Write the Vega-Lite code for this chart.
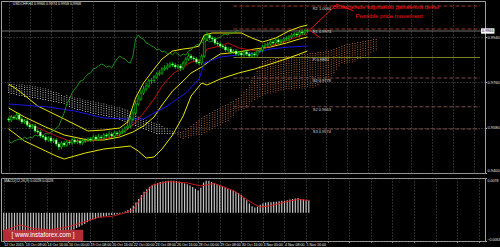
{
  "$schema": "https://vega.github.io/schema/vega-lite/v6.json",
  "background": "#000000",
  "padding": 0,
  "spacing": 3,
  "config": {
    "view": {"stroke": "#a0a0a0", "strokeWidth": 1},
    "axis": {"gridColor": "#6c6c6c", "gridDash": [1, 2], "gridWidth": 0.8, "labelColor": "#e8e8e8", "labelFont": "Liberation Sans", "tickColor": "#aaaaaa", "domain": false, "minExtent": 0, "labelOverlap": false},
    "text": {"font": "Liberation Sans"}
  },
  "datasets": {
    "candles": [
      {"i":0,"o":0.9614,"h":0.9622,"l":0.9602,"c":0.961,"lag":0.9526},
      {"i":1,"o":0.961,"h":0.963,"l":0.9602,"c":0.9622,"lag":0.9518},
      {"i":2,"o":0.9622,"h":0.963,"l":0.961,"c":0.9618,"lag":0.9526},
      {"i":3,"o":0.9618,"h":0.9638,"l":0.961,"c":0.963,"lag":0.953},
      {"i":4,"o":0.963,"h":0.9638,"l":0.9606,"c":0.9614,"lag":0.9534},
      {"i":5,"o":0.9614,"h":0.9622,"l":0.9594,"c":0.9602,"lag":0.953},
      {"i":6,"o":0.9602,"h":0.9614,"l":0.9594,"c":0.9606,"lag":0.9542},
      {"i":7,"o":0.9606,"h":0.9614,"l":0.9582,"c":0.959,"lag":0.9534},
      {"i":8,"o":0.959,"h":0.9598,"l":0.9574,"c":0.9582,"lag":0.9542},
      {"i":9,"o":0.9582,"h":0.9594,"l":0.9574,"c":0.9586,"lag":0.9538},
      {"i":10,"o":0.9586,"h":0.9594,"l":0.9558,"c":0.9566,"lag":0.955},
      {"i":11,"o":0.9566,"h":0.9574,"l":0.9554,"c":0.9562,"lag":0.9546},
      {"i":12,"o":0.9562,"h":0.957,"l":0.9538,"c":0.9546,"lag":0.9554},
      {"i":13,"o":0.9546,"h":0.9554,"l":0.9534,"c":0.9542,"lag":0.9546},
      {"i":14,"o":0.9542,"h":0.955,"l":0.9522,"c":0.953,"lag":0.9558},
      {"i":15,"o":0.953,"h":0.9546,"l":0.9522,"c":0.9538,"lag":0.9554},
      {"i":16,"o":0.9538,"h":0.9546,"l":0.9518,"c":0.9526,"lag":0.9562},
      {"i":17,"o":0.9526,"h":0.9538,"l":0.9518,"c":0.953,"lag":0.9566},
      {"i":18,"o":0.953,"h":0.9538,"l":0.9506,"c":0.9514,"lag":0.9578},
      {"i":19,"o":0.9514,"h":0.9522,"l":0.949,"c":0.9502,"lag":0.9586},
      {"i":20,"o":0.9502,"h":0.9526,"l":0.9494,"c":0.9518,"lag":0.9614},
      {"i":21,"o":0.9518,"h":0.9526,"l":0.9502,"c":0.951,"lag":0.9638},
      {"i":22,"o":0.951,"h":0.953,"l":0.9502,"c":0.9522,"lag":0.9674},
      {"i":23,"o":0.9522,"h":0.953,"l":0.951,"c":0.9518,"lag":0.9694},
      {"i":24,"o":0.9518,"h":0.9538,"l":0.951,"c":0.953,"lag":0.9718},
      {"i":25,"o":0.953,"h":0.9538,"l":0.9514,"c":0.9522,"lag":0.9734},
      {"i":26,"o":0.9522,"h":0.9534,"l":0.9514,"c":0.9526,"lag":0.9746},
      {"i":27,"o":0.9526,"h":0.9534,"l":0.951,"c":0.9518,"lag":0.9766},
      {"i":28,"o":0.9518,"h":0.9534,"l":0.951,"c":0.9526,"lag":0.9768},
      {"i":29,"o":0.9526,"h":0.9538,"l":0.9518,"c":0.953,"lag":0.9782},
      {"i":30,"o":0.953,"h":0.9542,"l":0.9522,"c":0.9534,"lag":0.9794},
      {"i":31,"o":0.9534,"h":0.9542,"l":0.9522,"c":0.953,"lag":0.9798},
      {"i":32,"o":0.953,"h":0.955,"l":0.9522,"c":0.9542,"lag":0.9814},
      {"i":33,"o":0.9542,"h":0.955,"l":0.9526,"c":0.9534,"lag":0.9818},
      {"i":34,"o":0.9534,"h":0.9554,"l":0.9526,"c":0.9542,"lag":0.9826},
      {"i":35,"o":0.9542,"h":0.955,"l":0.953,"c":0.9538,"lag":0.9834},
      {"i":36,"o":0.9538,"h":0.9558,"l":0.953,"c":0.955,"lag":0.983},
      {"i":37,"o":0.955,"h":0.9558,"l":0.9538,"c":0.9546,"lag":0.9822},
      {"i":38,"o":0.9546,"h":0.9566,"l":0.9538,"c":0.9554,"lag":0.9826},
      {"i":39,"o":0.9554,"h":0.9562,"l":0.9538,"c":0.9546,"lag":0.9818},
      {"i":40,"o":0.9546,"h":0.9566,"l":0.9538,"c":0.9558,"lag":0.9838},
      {"i":41,"o":0.9558,"h":0.9566,"l":0.9546,"c":0.9554,"lag":0.9854},
      {"i":42,"o":0.9554,"h":0.957,"l":0.9546,"c":0.9562,"lag":0.9866},
      {"i":43,"o":0.9562,"h":0.9574,"l":0.9554,"c":0.9566,"lag":0.9858},
      {"i":44,"o":0.9566,"h":0.9586,"l":0.9558,"c":0.9578,"lag":0.9854},
      {"i":45,"o":0.9578,"h":0.9598,"l":0.957,"c":0.9586,"lag":0.9842},
      {"i":46,"o":0.9586,"h":0.9626,"l":0.9578,"c":0.9614,"lag":0.9838},
      {"i":47,"o":0.9614,"h":0.9654,"l":0.9606,"c":0.9638,"lag":0.9866},
      {"i":48,"o":0.9638,"h":0.9686,"l":0.963,"c":0.9674,"lag":0.9934},
      {"i":49,"o":0.9674,"h":0.971,"l":0.9666,"c":0.9694,"lag":0.995},
      {"i":50,"o":0.9694,"h":0.973,"l":0.9686,"c":0.9718,"lag":0.9938},
      {"i":51,"o":0.9718,"h":0.9746,"l":0.971,"c":0.9734,"lag":0.9934},
      {"i":52,"o":0.9734,"h":0.9758,"l":0.9726,"c":0.9746,"lag":0.9918},
      {"i":53,"o":0.9746,"h":0.9774,"l":0.9738,"c":0.9766,"lag":0.9914},
      {"i":54,"o":0.9766,"h":0.9778,"l":0.9754,"c":0.9768,"lag":0.9906},
      {"i":55,"o":0.9768,"h":0.979,"l":0.9758,"c":0.9782,"lag":0.9902},
      {"i":56,"o":0.9782,"h":0.9802,"l":0.9774,"c":0.9794,"lag":0.989},
      {"i":57,"o":0.9794,"h":0.981,"l":0.9786,"c":0.9798,"lag":0.9894},
      {"i":58,"o":0.9798,"h":0.9822,"l":0.979,"c":0.9814,"lag":0.9882},
      {"i":59,"o":0.9814,"h":0.983,"l":0.9806,"c":0.9818,"lag":0.9886},
      {"i":60,"o":0.9818,"h":0.9838,"l":0.981,"c":0.9826,"lag":0.9874},
      {"i":61,"o":0.9826,"h":0.9842,"l":0.9818,"c":0.9834,"lag":0.9878},
      {"i":62,"o":0.9834,"h":0.9842,"l":0.9822,"c":0.983,"lag":0.987},
      {"i":63,"o":0.983,"h":0.9838,"l":0.9814,"c":0.9822,"lag":0.9882},
      {"i":64,"o":0.9822,"h":0.9834,"l":0.9814,"c":0.9826,"lag":0.9874},
      {"i":65,"o":0.9826,"h":0.9834,"l":0.9806,"c":0.9818,"lag":0.9866},
      {"i":66,"o":0.9818,"h":0.9846,"l":0.981,"c":0.9838,"lag":0.9874},
      {"i":67,"o":0.9838,"h":0.9862,"l":0.983,"c":0.9854,"lag":0.987},
      {"i":68,"o":0.9854,"h":0.9878,"l":0.9846,"c":0.9866,"lag":0.9886},
      {"i":69,"o":0.9866,"h":0.9874,"l":0.985,"c":0.9858,"lag":0.989},
      {"i":70,"o":0.9858,"h":0.9866,"l":0.9846,"c":0.9854,"lag":0.9902},
      {"i":71,"o":0.9854,"h":0.9862,"l":0.9834,"c":0.9842,"lag":0.991},
      {"i":72,"o":0.9842,"h":0.9854,"l":0.983,"c":0.9838,"lag":0.9914},
      {"i":73,"o":0.9838,"h":0.9874,"l":0.983,"c":0.9866,"lag":0.9922},
      {"i":74,"o":0.9866,"h":0.9946,"l":0.9858,"c":0.9934,"lag":0.9918},
      {"i":75,"o":0.9934,"h":0.9962,"l":0.9926,"c":0.995,"lag":0.993},
      {"i":76,"o":0.995,"h":0.9958,"l":0.993,"c":0.9938,"lag":0.9922},
      {"i":77,"o":0.9938,"h":0.9946,"l":0.9922,"c":0.9934,"lag":0.9926},
      {"i":78,"o":0.9934,"h":0.9942,"l":0.991,"c":0.9918,"lag":0.9934},
      {"i":79,"o":0.9918,"h":0.9926,"l":0.9906,"c":0.9914,"lag":0.9936},
      {"i":80,"o":0.9914,"h":0.9922,"l":0.9898,"c":0.9906,"lag":0.9942},
      {"i":81,"o":0.9906,"h":0.9914,"l":0.9894,"c":0.9902,"lag":0.995},
      {"i":82,"o":0.9902,"h":0.991,"l":0.9882,"c":0.989,"lag":0.9954},
      {"i":83,"o":0.989,"h":0.9902,"l":0.9882,"c":0.9894,"lag":0.995},
      {"i":84,"o":0.9894,"h":0.9902,"l":0.9874,"c":0.9882,"lag":0.9962},
      {"i":85,"o":0.9882,"h":0.9894,"l":0.9874,"c":0.9886,"lag":0.9958},
      {"i":86,"o":0.9886,"h":0.9894,"l":0.9866,"c":0.9874,"lag":0.9966},
      {"i":87,"o":0.9874,"h":0.9886,"l":0.9866,"c":0.9878,"lag":0.9968},
      {"i":88,"o":0.9878,"h":0.9886,"l":0.9862,"c":0.987},
      {"i":89,"o":0.987,"h":0.989,"l":0.9862,"c":0.9882},
      {"i":90,"o":0.9882,"h":0.989,"l":0.9866,"c":0.9874},
      {"i":91,"o":0.9874,"h":0.9882,"l":0.9858,"c":0.9866},
      {"i":92,"o":0.9866,"h":0.9882,"l":0.9858,"c":0.9874},
      {"i":93,"o":0.9874,"h":0.9882,"l":0.9862,"c":0.987},
      {"i":94,"o":0.987,"h":0.9894,"l":0.9862,"c":0.9886},
      {"i":95,"o":0.9886,"h":0.9898,"l":0.9878,"c":0.989},
      {"i":96,"o":0.989,"h":0.991,"l":0.9882,"c":0.9902},
      {"i":97,"o":0.9902,"h":0.9918,"l":0.9894,"c":0.991},
      {"i":98,"o":0.991,"h":0.9922,"l":0.9902,"c":0.9914},
      {"i":99,"o":0.9914,"h":0.993,"l":0.9906,"c":0.9922},
      {"i":100,"o":0.9922,"h":0.993,"l":0.991,"c":0.9918},
      {"i":101,"o":0.9918,"h":0.9938,"l":0.991,"c":0.993},
      {"i":102,"o":0.993,"h":0.9938,"l":0.9914,"c":0.9922},
      {"i":103,"o":0.9922,"h":0.9934,"l":0.9914,"c":0.9926},
      {"i":104,"o":0.9926,"h":0.9942,"l":0.9918,"c":0.9934},
      {"i":105,"o":0.9934,"h":0.9946,"l":0.9926,"c":0.9936},
      {"i":106,"o":0.9936,"h":0.995,"l":0.9926,"c":0.9942},
      {"i":107,"o":0.9942,"h":0.9958,"l":0.9934,"c":0.995},
      {"i":108,"o":0.995,"h":0.9962,"l":0.9942,"c":0.9954},
      {"i":109,"o":0.9954,"h":0.9962,"l":0.9942,"c":0.995},
      {"i":110,"o":0.995,"h":0.997,"l":0.9942,"c":0.9962},
      {"i":111,"o":0.9962,"h":0.997,"l":0.995,"c":0.9958},
      {"i":112,"o":0.9958,"h":0.9974,"l":0.995,"c":0.9966},
      {"i":113,"o":0.9966,"h":0.9974,"l":0.9958,"c":0.9968}
    ],
    "cloudG": [
      {"i":0,"a":0.9718,"b":0.9754},{"i":1,"a":0.9714,"b":0.9754},{"i":2,"a":0.9714,"b":0.9754},{"i":3,"a":0.971,"b":0.9754},
      {"i":4,"a":0.9706,"b":0.9754},{"i":5,"a":0.9706,"b":0.9754},{"i":6,"a":0.9702,"b":0.975},{"i":7,"a":0.9702,"b":0.975},
      {"i":8,"a":0.9702,"b":0.975},{"i":9,"a":0.9698,"b":0.9746},{"i":10,"a":0.9698,"b":0.9746},{"i":11,"a":0.9694,"b":0.9742},
      {"i":12,"a":0.9694,"b":0.9742},{"i":13,"a":0.969,"b":0.9738},{"i":14,"a":0.969,"b":0.9738},{"i":15,"a":0.9686,"b":0.9734},
      {"i":16,"a":0.9686,"b":0.973},{"i":17,"a":0.9682,"b":0.9726},{"i":18,"a":0.9682,"b":0.9722},{"i":19,"a":0.9678,"b":0.9718},
      {"i":20,"a":0.9678,"b":0.9714},{"i":21,"a":0.9674,"b":0.971},{"i":22,"a":0.967,"b":0.971},{"i":23,"a":0.9662,"b":0.9706},
      {"i":24,"a":0.9658,"b":0.9706},{"i":25,"a":0.9654,"b":0.9702},{"i":26,"a":0.965,"b":0.9698},{"i":27,"a":0.965,"b":0.9698},
      {"i":28,"a":0.9646,"b":0.9694},{"i":29,"a":0.9642,"b":0.969},{"i":30,"a":0.9642,"b":0.969},{"i":31,"a":0.9638,"b":0.9686},
      {"i":32,"a":0.9634,"b":0.9686},{"i":33,"a":0.9634,"b":0.9682},{"i":34,"a":0.963,"b":0.9682},{"i":35,"a":0.963,"b":0.9678},
      {"i":36,"a":0.9626,"b":0.9678},{"i":37,"a":0.9626,"b":0.9674},{"i":38,"a":0.9622,"b":0.967},{"i":39,"a":0.9622,"b":0.967},
      {"i":40,"a":0.9618,"b":0.9666},{"i":41,"a":0.9614,"b":0.9662},{"i":42,"a":0.961,"b":0.9662},{"i":43,"a":0.9606,"b":0.9658},
      {"i":44,"a":0.9602,"b":0.9658},{"i":45,"a":0.9598,"b":0.9654},{"i":46,"a":0.9594,"b":0.9646},{"i":47,"a":0.959,"b":0.9638},
      {"i":48,"a":0.9586,"b":0.9634},{"i":49,"a":0.9582,"b":0.9626},{"i":50,"a":0.9578,"b":0.9618},{"i":51,"a":0.9574,"b":0.9614},
      {"i":52,"a":0.957,"b":0.961},{"i":53,"a":0.9566,"b":0.9606},{"i":54,"a":0.9562,"b":0.9606},{"i":55,"a":0.9558,"b":0.9602},
      {"i":56,"a":0.9554,"b":0.9598},{"i":57,"a":0.9554,"b":0.9594},{"i":58,"a":0.9554,"b":0.9586},{"i":59,"a":0.9554,"b":0.9582},
      {"i":60,"a":0.9554,"b":0.9578},{"i":61,"a":0.9554,"b":0.957},{"i":62,"a":0.9554,"b":0.9566}
    ],
    "cloudB": [
      {"i":63,"a":0.9558,"b":0.9554},{"i":64,"a":0.9562,"b":0.9546},{"i":65,"a":0.9562,"b":0.9538},{"i":66,"a":0.9566,"b":0.9534},
      {"i":67,"a":0.9574,"b":0.9538},{"i":68,"a":0.9578,"b":0.9538},{"i":69,"a":0.9586,"b":0.9542},{"i":70,"a":0.9594,"b":0.9546},
      {"i":71,"a":0.9602,"b":0.9546},{"i":72,"a":0.961,"b":0.955},{"i":73,"a":0.9618,"b":0.955},{"i":74,"a":0.9626,"b":0.9554},
      {"i":75,"a":0.963,"b":0.9558},{"i":76,"a":0.9638,"b":0.9566},{"i":77,"a":0.9642,"b":0.957},{"i":78,"a":0.965,"b":0.9578},
      {"i":79,"a":0.9654,"b":0.9582},{"i":80,"a":0.9658,"b":0.9586},{"i":81,"a":0.9666,"b":0.9594},{"i":82,"a":0.967,"b":0.9598},
      {"i":83,"a":0.9674,"b":0.9606},{"i":84,"a":0.9682,"b":0.9618},{"i":85,"a":0.9686,"b":0.9626},{"i":86,"a":0.9694,"b":0.9638},
      {"i":87,"a":0.9698,"b":0.9646},{"i":88,"a":0.971,"b":0.965},{"i":89,"a":0.9722,"b":0.9654},{"i":90,"a":0.9734,"b":0.9658},
      {"i":91,"a":0.975,"b":0.9666},{"i":92,"a":0.977,"b":0.9678},{"i":93,"a":0.9786,"b":0.9686},{"i":94,"a":0.9806,"b":0.9694},
      {"i":95,"a":0.9826,"b":0.9698},{"i":96,"a":0.9846,"b":0.9706},{"i":97,"a":0.9846,"b":0.971},{"i":98,"a":0.985,"b":0.9714},
      {"i":99,"a":0.9854,"b":0.9714},{"i":100,"a":0.9854,"b":0.9718},{"i":101,"a":0.9858,"b":0.9718},{"i":102,"a":0.9858,"b":0.9722},
      {"i":103,"a":0.9862,"b":0.9726},{"i":104,"a":0.9862,"b":0.9726},{"i":105,"a":0.9866,"b":0.973},{"i":106,"a":0.9866,"b":0.973},
      {"i":107,"a":0.9866,"b":0.973},{"i":108,"a":0.987,"b":0.973},{"i":109,"a":0.987,"b":0.9734},{"i":110,"a":0.987,"b":0.9734},
      {"i":111,"a":0.9874,"b":0.9734},{"i":112,"a":0.9874,"b":0.9734},{"i":113,"a":0.9874,"b":0.9738},{"i":114,"a":0.9878,"b":0.9738},
      {"i":115,"a":0.9878,"b":0.9738},{"i":116,"a":0.9878,"b":0.9742},{"i":117,"a":0.9882,"b":0.9746},{"i":118,"a":0.9882,"b":0.9754},
      {"i":119,"a":0.9882,"b":0.9758},{"i":120,"a":0.9886,"b":0.9762},{"i":121,"a":0.9886,"b":0.9766},{"i":122,"a":0.989,"b":0.9782},
      {"i":123,"a":0.9894,"b":0.9794},{"i":124,"a":0.9898,"b":0.981},{"i":125,"a":0.9902,"b":0.9822},{"i":126,"a":0.9906,"b":0.9834},
      {"i":127,"a":0.991,"b":0.9834},{"i":128,"a":0.9914,"b":0.9834},{"i":129,"a":0.9914,"b":0.9838},{"i":130,"a":0.9918,"b":0.9838},
      {"i":131,"a":0.9918,"b":0.9842},{"i":132,"a":0.9922,"b":0.985},{"i":133,"a":0.9922,"b":0.9854},{"i":134,"a":0.9926,"b":0.9862},
      {"i":135,"a":0.9926,"b":0.9866},{"i":136,"a":0.993,"b":0.987},{"i":137,"a":0.993,"b":0.9878},{"i":138,"a":0.9934,"b":0.9882},
      {"i":139,"a":0.9934,"b":0.9886}
    ],
    "bb": [
      {"band":"U","i":0,"p":0.9754},{"band":"U","i":4,"p":0.9726},{"band":"U","i":11,"p":0.9666},{"band":"U","i":21,"p":0.9614},
      {"band":"U","i":30,"p":0.9566},{"band":"U","i":36,"p":0.957},{"band":"U","i":42,"p":0.9578},{"band":"U","i":45,"p":0.9602},
      {"band":"U","i":48,"p":0.9698},{"band":"U","i":51,"p":0.9758},{"band":"U","i":55,"p":0.9814},{"band":"U","i":58,"p":0.9854},
      {"band":"U","i":62,"p":0.9886},{"band":"U","i":66,"p":0.9894},{"band":"U","i":69,"p":0.9898},{"band":"U","i":72,"p":0.9906},
      {"band":"U","i":74,"p":0.995},{"band":"U","i":77,"p":0.9958},{"band":"U","i":88,"p":0.9958},{"band":"U","i":92,"p":0.9938},
      {"band":"U","i":96,"p":0.9922},{"band":"U","i":101,"p":0.9938},{"band":"U","i":106,"p":0.9966},{"band":"U","i":110,"p":0.9982},
      {"band":"U","i":113,"p":0.999},
      {"band":"M","i":0,"p":0.9658},{"band":"M","i":6,"p":0.9622},{"band":"M","i":14,"p":0.9582},{"band":"M","i":21,"p":0.955},
      {"band":"M","i":30,"p":0.953},{"band":"M","i":36,"p":0.953},{"band":"M","i":42,"p":0.9542},{"band":"M","i":47,"p":0.9562},
      {"band":"M","i":51,"p":0.9586},{"band":"M","i":55,"p":0.9622},{"band":"M","i":58,"p":0.967},{"band":"M","i":62,"p":0.9726},
      {"band":"M","i":66,"p":0.9766},{"band":"M","i":69,"p":0.9798},{"band":"M","i":73,"p":0.9822},{"band":"M","i":77,"p":0.9854},
      {"band":"M","i":80,"p":0.9874},{"band":"M","i":87,"p":0.9882},{"band":"M","i":93,"p":0.9894},{"band":"M","i":99,"p":0.9902},
      {"band":"M","i":105,"p":0.9918},{"band":"M","i":110,"p":0.9934},{"band":"M","i":113,"p":0.9942},
      {"band":"L","i":0,"p":0.9574},{"band":"L","i":6,"p":0.9526},{"band":"L","i":14,"p":0.9486},{"band":"L","i":18,"p":0.9466},
      {"band":"L","i":21,"p":0.9454},{"band":"L","i":29,"p":0.9478},{"band":"L","i":36,"p":0.9494},{"band":"L","i":46,"p":0.9506},
      {"band":"L","i":49,"p":0.9486},{"band":"L","i":52,"p":0.9458},{"band":"L","i":55,"p":0.9462},{"band":"L","i":58,"p":0.9494},
      {"band":"L","i":62,"p":0.955},{"band":"L","i":66,"p":0.9626},{"band":"L","i":69,"p":0.9706},{"band":"L","i":73,"p":0.9758},
      {"band":"L","i":75,"p":0.975},{"band":"L","i":80,"p":0.9774},{"band":"L","i":87,"p":0.9798},{"band":"L","i":93,"p":0.9814},
      {"band":"L","i":99,"p":0.9834},{"band":"L","i":106,"p":0.9858},{"band":"L","i":111,"p":0.9878},{"band":"L","i":113,"p":0.9886}
    ],
    "tenkan": [
      {"i":0,"p":0.9626},{"i":6,"p":0.9606},{"i":12,"p":0.9574},{"i":18,"p":0.9546},{"i":23,"p":0.9526},{"i":30,"p":0.9526},
      {"i":36,"p":0.9534},{"i":42,"p":0.955},{"i":47,"p":0.959},{"i":51,"p":0.9638},{"i":55,"p":0.9694},{"i":58,"p":0.9746},
      {"i":62,"p":0.9794},{"i":66,"p":0.9822},{"i":69,"p":0.9842},{"i":73,"p":0.985},{"i":75,"p":0.9894},{"i":80,"p":0.9906},
      {"i":83,"p":0.9918},{"i":87,"p":0.9898},{"i":94,"p":0.9886},{"i":99,"p":0.9906},{"i":105,"p":0.9926},{"i":111,"p":0.995},
      {"i":113,"p":0.9954}
    ],
    "kijun": [
      {"i":0,"p":0.9674},{"i":15,"p":0.9662},{"i":25,"p":0.9646},{"i":36,"p":0.9618},{"i":45,"p":0.9614},{"i":51,"p":0.9614},
      {"i":55,"p":0.9638},{"i":60,"p":0.9666},{"i":67,"p":0.9718},{"i":72,"p":0.9774},{"i":74,"p":0.9838},{"i":80,"p":0.9862},
      {"i":93,"p":0.9878},{"i":99,"p":0.9894},{"i":106,"p":0.9902},{"i":113,"p":0.9906}
    ],
    "pivots": [
      {"name":"R2","p":1.0066,"i":85,"i2":178.26,"li":115,"label":"R2  1.0066"},
      {"name":"R1","p":0.9974,"i":85,"i2":178.26,"li":115,"label":"R1  0.9974"},
      {"name":"P","p":0.986,"i":85,"i2":178.26,"li":115,"label":"P  0.9860"},
      {"name":"S1","p":0.9778,"i":85,"i2":178.26,"li":115,"label":"S1  0.9778"},
      {"name":"S2","p":0.9663,"i":85,"i2":178.26,"li":115,"label":"S2  0.9663"},
      {"name":"S3","p":0.9574,"i":85,"i2":178.26,"li":115,"label":"S3  0.9574"}
    ],
    "bid": [{"p": 0.9966, "i": 181.2, "label": "0.9966"}],
    "header": [{"i": 1.6, "p": 1.0074, "t": "USDCHF,H4  0.9966 0.9974 0.9958 0.9968"}],
    "arrows": [
      {"g":"a","i":113.8,"p":0.997},{"g":"a","i":123.4,"p":1.0066},
      {"g":"b","i":113.8,"p":0.997},{"g":"b","i":117.9,"p":0.9938},
      {"g":"c","i":123.8,"p":1.0074},{"g":"c","i":130.5,"p":1.0046}
    ],
    "notes": [
      {"i":122.6,"p":1.0064,"t":"Возможные варианты движения цены"},
      {"i":131.2,"p":1.0028,"t":"Possible price movement"}
    ],
    "macd": [
      {"i":0,"v":-0.004},{"i":1,"v":-0.0042},{"i":2,"v":-0.0044},{"i":3,"v":-0.0045},{"i":4,"v":-0.0047},{"i":5,"v":-0.0049},
      {"i":6,"v":-0.005},{"i":7,"v":-0.005},{"i":8,"v":-0.0051},{"i":9,"v":-0.0052},{"i":10,"v":-0.0053},{"i":11,"v":-0.0054},
      {"i":12,"v":-0.0055},{"i":13,"v":-0.0055},{"i":14,"v":-0.0056},{"i":15,"v":-0.0055},{"i":16,"v":-0.0054},{"i":17,"v":-0.0053},
      {"i":18,"v":-0.0052},{"i":19,"v":-0.0053},{"i":20,"v":-0.0051},{"i":21,"v":-0.005},{"i":22,"v":-0.0048},{"i":23,"v":-0.0046},
      {"i":24,"v":-0.0043},{"i":25,"v":-0.004},{"i":26,"v":-0.0037},{"i":27,"v":-0.0034},{"i":28,"v":-0.0031},{"i":29,"v":-0.0028},
      {"i":30,"v":-0.0025},{"i":31,"v":-0.0021},{"i":32,"v":-0.0017},{"i":33,"v":-0.0015},{"i":34,"v":-0.0013},{"i":35,"v":-0.0011},
      {"i":36,"v":-0.001},{"i":37,"v":-0.0008},{"i":38,"v":-0.0007},{"i":39,"v":-0.0006},{"i":40,"v":-0.0005},{"i":41,"v":-0.0004},
      {"i":42,"v":-0.0003},{"i":43,"v":-0.0002},{"i":44,"v":0.0001},{"i":45,"v":0.0003},{"i":46,"v":0.0006},{"i":47,"v":0.001},
      {"i":48,"v":0.0016},{"i":49,"v":0.0023},{"i":50,"v":0.0031},{"i":51,"v":0.004},{"i":52,"v":0.0047},{"i":53,"v":0.0053},
      {"i":54,"v":0.0058},{"i":55,"v":0.0062},{"i":56,"v":0.0065},{"i":57,"v":0.0067},{"i":58,"v":0.0069},{"i":59,"v":0.007},
      {"i":60,"v":0.0071},{"i":61,"v":0.0072},{"i":62,"v":0.0072},{"i":63,"v":0.0072},{"i":64,"v":0.0071},{"i":65,"v":0.007},
      {"i":66,"v":0.0068},{"i":67,"v":0.0066},{"i":68,"v":0.0064},{"i":69,"v":0.0061},{"i":70,"v":0.0058},{"i":71,"v":0.0054},
      {"i":72,"v":0.005},{"i":73,"v":0.0056},{"i":74,"v":0.0068},{"i":75,"v":0.0072},{"i":76,"v":0.0072},{"i":77,"v":0.0069},
      {"i":78,"v":0.0066},{"i":79,"v":0.0064},{"i":80,"v":0.0062},{"i":81,"v":0.006},{"i":82,"v":0.0057},{"i":83,"v":0.0054},
      {"i":84,"v":0.0051},{"i":85,"v":0.005},{"i":86,"v":0.0047},{"i":87,"v":0.0044},{"i":88,"v":0.004},{"i":89,"v":0.0034},
      {"i":90,"v":0.0028},{"i":91,"v":0.0021},{"i":92,"v":0.0015},{"i":93,"v":0.0012},{"i":94,"v":0.0014},{"i":95,"v":0.0018},
      {"i":96,"v":0.0021},{"i":97,"v":0.0023},{"i":98,"v":0.0024},{"i":99,"v":0.0024},{"i":100,"v":0.0025},{"i":101,"v":0.0025},
      {"i":102,"v":0.0026},{"i":103,"v":0.0027},{"i":104,"v":0.0027},{"i":105,"v":0.0028},{"i":106,"v":0.003},{"i":107,"v":0.0031},
      {"i":108,"v":0.0032},{"i":109,"v":0.0033},{"i":110,"v":0.0031},{"i":111,"v":0.003},{"i":112,"v":0.0029},{"i":113,"v":0.0028}
    ],
    "sig": [
      {"i":0,"v":-0.004},{"i":6,"v":-0.0027},{"i":11,"v":-0.0035},{"i":17,"v":-0.0038},{"i":24,"v":-0.0031},{"i":30,"v":-0.002},
      {"i":35,"v":-0.001},{"i":40,"v":-0.0008},{"i":45,"v":0.0},{"i":48,"v":0.0007},{"i":51,"v":0.0035},{"i":55,"v":0.0062},
      {"i":61,"v":0.007},{"i":68,"v":0.0067},{"i":73,"v":0.006},{"i":78,"v":0.0066},{"i":85,"v":0.005},{"i":92,"v":0.0022},
      {"i":95,"v":0.0013},{"i":99,"v":0.0016},{"i":104,"v":0.0024},{"i":109,"v":0.003},{"i":113,"v":0.0028}
    ],
    "macdHead": [{"i": 0.2, "v": 0.0071, "t": "MACD(12,26,9) 0.0028 0.0028"}],
    "logo": [{"i": -0.3, "i2": 29.5, "v": -0.0038, "v2": -0.0063, "ic": 14.6, "vc": -0.00505, "t": "[  www.instaforex.com  ]"}]
  },
  "vconcat": [
    {
      "width": 484,
      "height": 172,
      "encoding": {
        "x": {"field": "i", "type": "quantitative", "title": null,
          "scale": {"domain": [-1, 178.26], "nice": false, "zero": false},
          "axis": {"values": [0,8,16,24,32,40,48,56,64,72,80,88,96,104,112,120,128,136,144,152,160,168,176], "labels": false, "ticks": false, "grid": true, "minExtent": 0, "maxExtent": 0, "offset": 0, "labelPadding": 0}}
      },
      "layer": [
        {
          "data": {"name": "cloudG"},
          "mark": {"type": "rule", "color": "#bcbcbc", "strokeWidth": 1, "strokeDash": [1, 1.3]},
          "encoding": {
            "y": {"field": "a", "type": "quantitative", "title": null,
              "scale": {"domain": [0.9398, 1.0086], "nice": false, "zero": false},
              "axis": {"orient": "right", "values": [1.0075,1.003,0.9985,0.994,0.9895,0.985,0.9805,0.976,0.9715,0.967,0.9625,0.958,0.9535,0.949,0.9445,0.94], "format": ".4f", "labelFontSize": 4, "labelPadding": 0.5, "tickSize": 1.5, "grid": true, "labelOverlap": false, "labelFlush": true}},
            "y2": {"field": "b"}
          }
        },
        {
          "data": {"name": "cloudB"},
          "mark": {"type": "rule", "color": "#a8643a", "strokeWidth": 1, "strokeDash": [1, 1.3]},
          "encoding": {
            "y": {"field": "a", "type": "quantitative", "title": null},
            "y2": {"field": "b"}
          }
        },
        {
          "data": {"name": "pivots"},
          "transform": [{"filter": "datum.name != 'P'"}],
          "mark": {"type": "rule", "strokeWidth": 0.9, "strokeDash": [4, 2]},
          "encoding": {
            "x2": {"field": "i2"},
            "y": {"field": "p", "type": "quantitative", "title": null},
            "color": {"condition": {"test": "datum.p > 0.99", "value": "#a8402c"}, "value": "#8a5252"}
          }
        },
        {
          "data": {"name": "pivots"},
          "transform": [{"filter": "datum.name == 'P'"}],
          "mark": {"type": "rule", "strokeWidth": 0.9, "color": "#8c8c2a"},
          "encoding": {
            "x2": {"field": "i2"},
            "y": {"field": "p", "type": "quantitative", "title": null}
          }
        },
        {
          "data": {"name": "bid"},
          "mark": {"type": "rule", "color": "#8a8a8a", "strokeWidth": 0.8},
          "encoding": {
            "x": null,
            "y": {"field": "p", "type": "quantitative", "title": null}
          }
        },
        {
          "data": {"name": "bb"},
          "mark": {"type": "line", "color": "#e6e600", "strokeWidth": 1},
          "encoding": {
            "y": {"field": "p", "type": "quantitative", "title": null},
            "detail": {"field": "band"}
          }
        },
        {
          "data": {"name": "kijun"},
          "mark": {"type": "line", "color": "#1a1aff", "strokeWidth": 0.9},
          "encoding": {"y": {"field": "p", "type": "quantitative", "title": null}}
        },
        {
          "data": {"name": "tenkan"},
          "mark": {"type": "line", "color": "#d01010", "strokeWidth": 0.9},
          "encoding": {"y": {"field": "p", "type": "quantitative", "title": null}}
        },
        {
          "data": {"name": "candles"},
          "mark": {"type": "line", "color": "#1c9a1c", "strokeWidth": 0.9},
          "encoding": {"y": {"field": "lag", "type": "quantitative", "title": null}}
        },
        {
          "data": {"name": "candles"},
          "mark": {"type": "rule", "color": "#00e000", "strokeWidth": 0.7},
          "encoding": {
            "y": {"field": "l", "type": "quantitative", "title": null},
            "y2": {"field": "h"}
          }
        },
        {
          "data": {"name": "candles"},
          "mark": {"type": "bar", "width": 1.8, "stroke": "#00ff00", "strokeWidth": 0.5},
          "encoding": {
            "y": {"field": "o", "type": "quantitative", "title": null},
            "y2": {"field": "c"},
            "fill": {"condition": {"test": "datum.c >= datum.o", "value": "#000000"}, "value": "#ffffff"}
          }
        },
        {
          "data": {"name": "arrows"},
          "mark": {"type": "line", "color": "#ff1010", "strokeWidth": 0.9},
          "encoding": {
            "y": {"field": "p", "type": "quantitative", "title": null},
            "detail": {"field": "g"}
          }
        },
        {
          "data": {"name": "pivots"},
          "mark": {"type": "text", "align": "left", "baseline": "top", "dy": 0.8, "fontSize": 4, "color": "#d8d8d8"},
          "encoding": {
            "x": {"field": "li", "type": "quantitative"},
            "y": {"field": "p", "type": "quantitative", "title": null},
            "text": {"field": "label"}
          }
        },
        {
          "data": {"name": "notes"},
          "mark": {"type": "text", "align": "left", "baseline": "middle", "fontSize": 6, "color": "#ff1010"},
          "encoding": {
            "y": {"field": "p", "type": "quantitative", "title": null},
            "text": {"field": "t"}
          }
        },
        {
          "data": {"name": "header"},
          "mark": {"type": "text", "align": "left", "baseline": "middle", "fontSize": 3.6, "color": "#e8e8e8"},
          "encoding": {
            "y": {"field": "p", "type": "quantitative", "title": null},
            "text": {"field": "t"}
          }
        },
        {
          "data": {"name": "bid"},
          "mark": {"type": "point", "shape": "M-1,-0.4H1V0.4H-1Z", "size": 180, "filled": true, "color": "#ffffff", "opacity": 1},
          "encoding": {
            "y": {"field": "p", "type": "quantitative", "title": null}
          }
        },
        {
          "data": {"name": "bid"},
          "mark": {"type": "text", "align": "center", "baseline": "middle", "fontSize": 3.8, "color": "#000000"},
          "encoding": {
            "y": {"field": "p", "type": "quantitative", "title": null},
            "text": {"field": "label"}
          }
        }
      ]
    },
    {
      "width": 484,
      "height": 63,
      "encoding": {
        "x": {"field": "i", "type": "quantitative", "title": null,
          "scale": {"domain": [-1, 178.26], "nice": false, "zero": false},
          "axis": {"values": [0,8,16,24,32,40,48,56,64,72,80,88,96,104,112,120,128,136,144,152,160,168,176],
            "labelExpr": "datum.value <= 112 ? ['12 Oct 2015','13 Oct 08:00','14 Oct 16:00','16 Oct 00:00','19 Oct 08:00','20 Oct 16:00','22 Oct 00:00','23 Oct 08:00','26 Oct 16:00','28 Oct 00:00','29 Oct 08:00','30 Oct 16:00','3 Nov 00:00','4 Nov 08:00','5 Nov 16:00'][datum.value / 8] : ''",
            "labelAlign": "left", "labelBaseline": "top", "labelFontSize": 3.6, "labelPadding": 0.3, "tickSize": 1.2, "grid": true,
            "labelOverlap": false, "labelFlush": false, "labelBound": false, "minExtent": 0}}
      },
      "layer": [
        {
          "data": {"name": "macd"},
          "mark": {"type": "rule", "color": "#c4c4c4", "strokeWidth": 1.2},
          "encoding": {
            "y": {"field": "v", "type": "quantitative", "title": null,
              "scale": {"domain": [-0.0063, 0.0078], "nice": false, "zero": false},
              "axis": {"orient": "right", "values": [0.0078, 0, -0.0063], "labelExpr": "datum.value == 0 ? '0.00' : format(datum.value, '.4f')", "labelFontSize": 3.6, "labelPadding": 0.5, "tickSize": 1.5, "grid": true, "labelOverlap": false, "labelFlush": true}},
            "y2": {"datum": 0}
          }
        },
        {
          "data": {"name": "sig"},
          "mark": {"type": "line", "color": "#e01818", "strokeWidth": 0.9},
          "encoding": {"y": {"field": "v", "type": "quantitative", "title": null}}
        },
        {
          "data": {"name": "macdHead"},
          "mark": {"type": "text", "align": "left", "baseline": "middle", "fontSize": 3.6, "color": "#e0e0e0"},
          "encoding": {
            "y": {"field": "v", "type": "quantitative", "title": null},
            "text": {"field": "t"}
          }
        },
        {
          "data": {"name": "logo"},
          "mark": {"type": "rect", "color": "#c0303a", "opacity": 0.92, "cornerRadius": 1},
          "encoding": {
            "x2": {"field": "i2"},
            "y": {"field": "v", "type": "quantitative", "title": null},
            "y2": {"field": "v2"}
          }
        },
        {
          "data": {"name": "logo"},
          "mark": {"type": "text", "align": "center", "baseline": "middle", "fontSize": 6.3, "color": "#ffffff"},
          "encoding": {
            "x": {"field": "ic", "type": "quantitative"},
            "y": {"field": "vc", "type": "quantitative", "title": null},
            "text": {"field": "t"}
          }
        }
      ]
    }
  ]
}
